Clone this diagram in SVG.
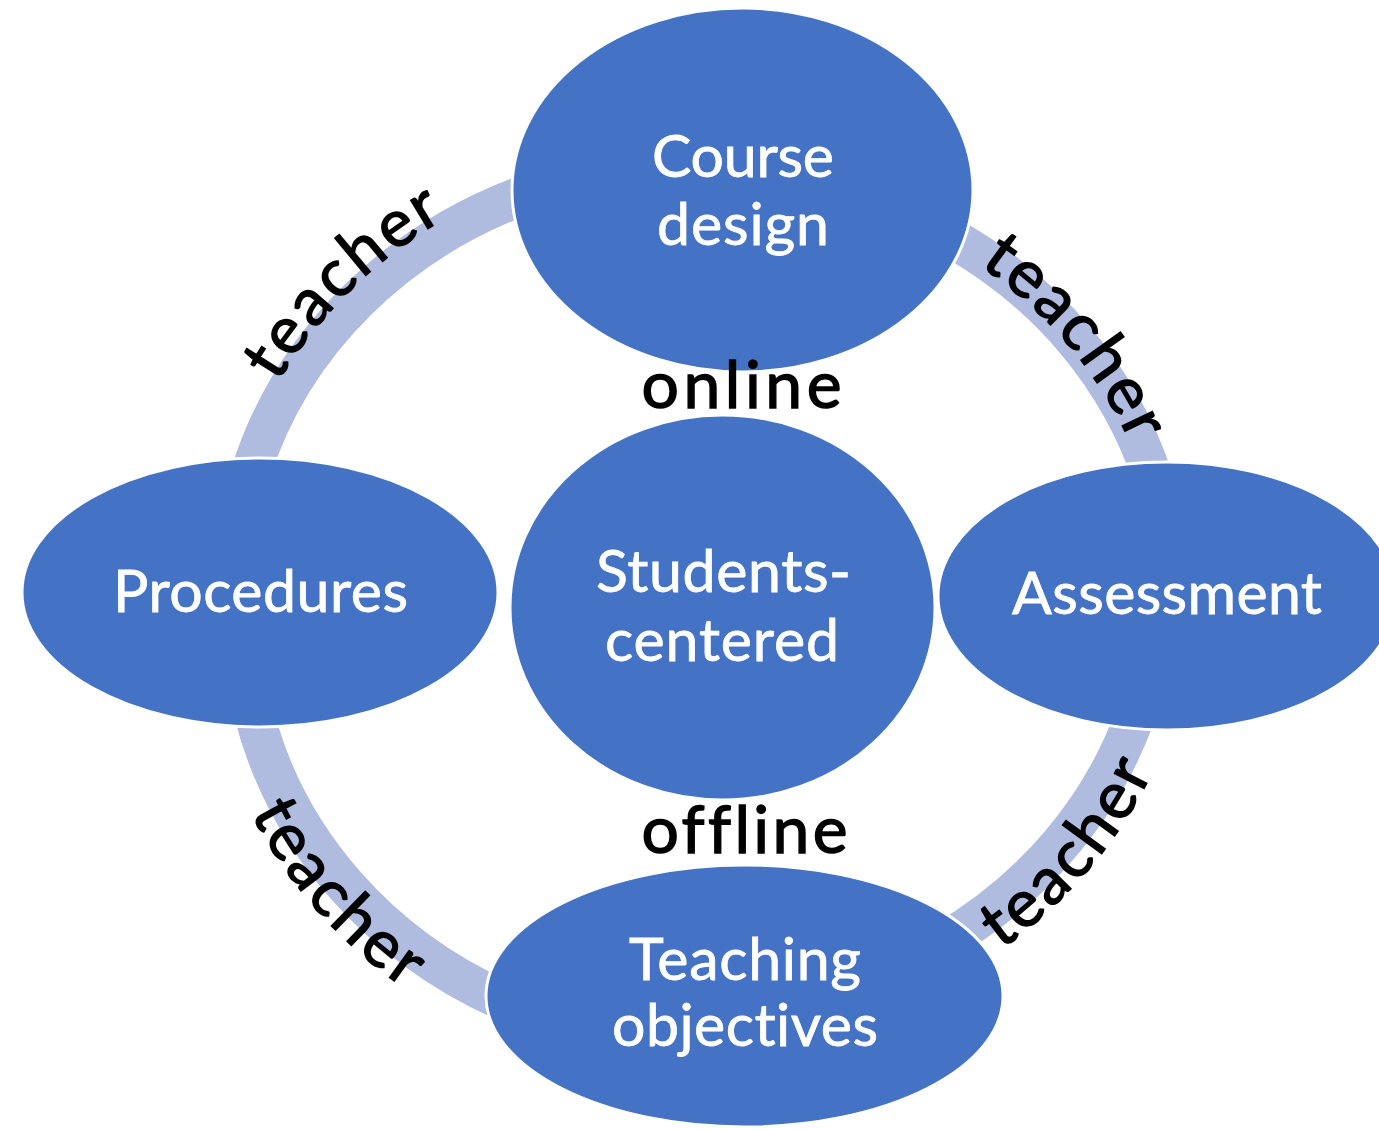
<svg xmlns="http://www.w3.org/2000/svg" width="1379" height="1129" viewBox="0 0 1379 1129">
<style>
.ring{fill:none;stroke:#AFBCE0;stroke-width:40}
.node{fill:#4472C4;stroke:#FFFFFF;stroke-width:3}
.nt{fill:#FFFFFF;stroke:#FFFFFF;stroke-width:0.8;font-family:Lato,"Open Sans",sans-serif;font-size:59px;text-anchor:middle;font-variant-ligatures:none}
.lbl{fill:#000000;stroke:#000000;stroke-width:1.4;font-family:Lato,"Open Sans",sans-serif;font-size:66px;font-variant-ligatures:none}
.arc{letter-spacing:3px}
</style>
<defs>
<path id="tp1" d="M 238.5 471.5 A 478 441 0 0 1 536.1 178.1"/>
<path id="tp2" d="M 946.8 245.2 A 458 421 0 0 1 1145.6 482"/>
<path id="tp3" d="M 960.1 976 A 504 467 0 0 0 1172.6 723.6"/>
<path id="tp4" d="M 216.4 720.1 A 504 467 0 0 0 494.5 1038.2"/>
</defs>
<rect x="0" y="0" width="1379" height="1129" fill="#FFFFFF"/>
<g id="connectors">
<path class="ring" d="M 250 475 A 466 429 0 0 1 540 189.4"/>
<path class="ring" d="M 950 237 A 466 429 0 0 1 1153.4 480"/>
<path class="ring" d="M 1136.4 712 A 466 429 0 0 1 940 943.8"/>
<path class="ring" d="M 510 1003.6 A 466 429 0 0 1 253.6 712"/>
</g>
<g id="node-course-design">
<ellipse class="node" cx="742.5" cy="190" rx="230.5" ry="182"/>
<text class="nt" x="743" y="177" textLength="182">Course</text>
<text class="nt" x="743" y="245" textLength="172">design</text>
</g>
<g id="node-procedures">
<ellipse class="node" cx="260" cy="592.5" rx="238" ry="134.5"/>
<text class="nt" x="260.5" y="612" textLength="295">Procedures</text>
</g>
<g id="node-students-centered">
<ellipse class="node" cx="722.5" cy="607.5" rx="212.5" ry="192.5"/>
<text class="nt" x="723.5" y="592" textLength="255">Students-</text>
<text class="nt" x="722" y="661" textLength="234">centered</text>
</g>
<g id="node-assessment">
<ellipse class="node" cx="1167" cy="596" rx="229" ry="134"/>
<text class="nt" x="1167" y="614" textLength="310">Assessment</text>
</g>
<g id="node-teaching-objectives">
<ellipse class="node" cx="744.5" cy="996" rx="258.5" ry="131"/>
<text class="nt" x="745" y="980" textLength="232">Teaching</text>
<text class="nt" x="745" y="1046" textLength="266">objectives</text>
</g>
<g id="labels">
<text class="lbl" x="741.5" y="408" text-anchor="middle" textLength="200">online</text>
<text class="lbl" x="744.5" y="853" text-anchor="middle" textLength="206">offline</text>
<text class="lbl arc"><textPath href="#tp1" startOffset="50%" text-anchor="middle">teacher</textPath></text>
<text class="lbl arc"><textPath href="#tp2" startOffset="50%" text-anchor="middle">teacher</textPath></text>
<text class="lbl arc"><textPath href="#tp3" startOffset="50%" text-anchor="middle">teacher</textPath></text>
<text class="lbl arc"><textPath href="#tp4" startOffset="50%" text-anchor="middle">teacher</textPath></text>
</g>
</svg>
